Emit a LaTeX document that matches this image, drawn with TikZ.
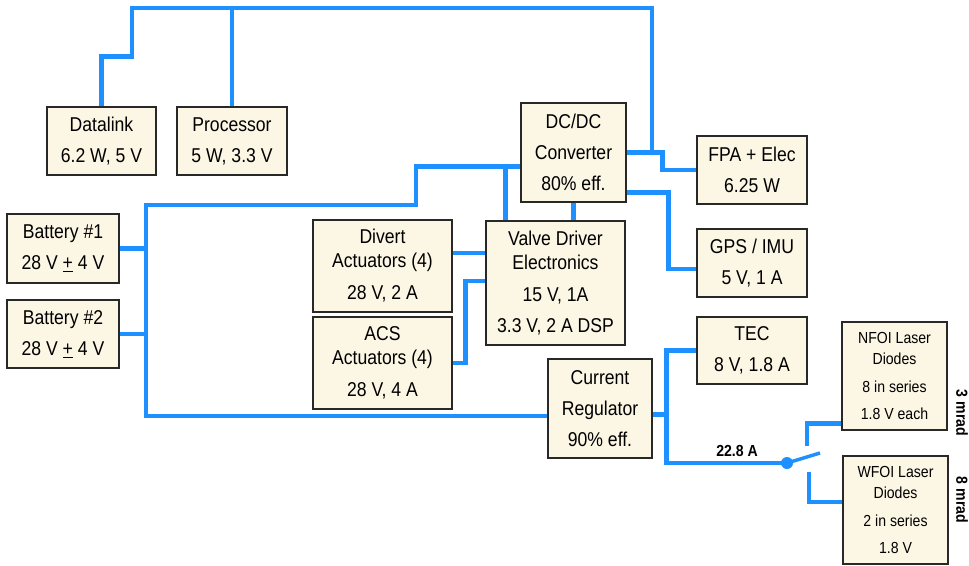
\documentclass[tikz,border=0pt]{standalone}
\usepackage{fontspec}
\setmainfont{Liberation Sans}[FakeStretch=0.88]
\usetikzlibrary{calc}
\definecolor{wireblue}{RGB}{30,144,255}
\definecolor{boxfill}{RGB}{252,246,228}
\definecolor{boxline}{RGB}{40,40,40}

\begin{document}
\begin{tikzpicture}[x=0.75pt,y=-0.75pt,
  wire/.style={draw=wireblue,line width=3.6pt},
  box/.style={draw=boxline,fill=boxfill,line width=1.1pt,inner sep=0pt,align=center,
    font=\fontsize{15}{23.25}\selectfont},
  smallbox/.style={box,font=\fontsize{12}{20.5}\selectfont},
  lbl/.style={font=\fontsize{12}{14}\selectfont\bfseries}]
  \def\px{0.75pt};
  \useasboundingbox (0,0) rectangle (969,565);

  % ブロック
  \node[box,minimum width=109*\px,minimum height=68*\px] (dl) at (101.5,141) {Datalink\\6.2 W, 5 V};
  \node[box,minimum width=110*\px,minimum height=68*\px] (proc) at (232,141) {Processor\\5 W, 3.3 V};
  \node[box,minimum width=105*\px,minimum height=99*\px] (dcdc) at (573.5,152.5) {DC/DC\\Converter\\80\% eff.};
  \node[box,minimum width=110*\px,minimum height=68*\px] (fpa) at (752,170) {FPA + Elec\\6.25 W};
  \node[box,minimum width=110*\px,minimum height=68*\px] (gps) at (752,263) {GPS / IMU\\5 V, 1 A};
  \node[box,minimum width=112*\px,minimum height=69*\px] (bat1) at (63,248.5) {Battery \#1\\28 V \underline{+} 4 V};
  \node[box,minimum width=112*\px,minimum height=68*\px] (bat2) at (63,334) {Battery \#2\\28 V \underline{+} 4 V};
  \node[box,minimum width=139*\px,minimum height=92*\px] (div) at (382.5,266) {Divert\\[-5.5pt]Actuators (4)\\[1pt]28 V, 2 A};
  \node[box,minimum width=139*\px,minimum height=92*\px] (acs) at (382.5,363) {ACS\\[-5.5pt]Actuators (4)\\[1pt]28 V, 4 A};
  \node[box,minimum width=139*\px,minimum height=124*\px] (vde) at (555.5,283) {Valve Driver\\[-5.5pt]Electronics\\[1pt]15 V, 1A\\3.3 V, 2 A DSP};
  \node[box,minimum width=104*\px,minimum height=99*\px] (creg) at (600,408.5) {Current\\Regulator\\90\% eff.};
  \node[box,minimum width=110*\px,minimum height=67*\px] (tec) at (752,350.5) {TEC\\8 V, 1.8 A};
  \node[smallbox,minimum width=105*\px,minimum height=108*\px] (nfoi) at (894.5,376) {NFOI Laser\\[-4.75pt]Diodes\\8 in series\\1.8 V each};
  \node[smallbox,minimum width=105*\px,minimum height=108*\px] (wfoi) at (895.5,510) {WFOI Laser\\[-4.75pt]Diodes\\2 in series\\1.8 V};

  % 上の配線
  \coordinate (tl) at (132,8);
  \coordinate (tr) at (652,8);
  \draw[wire] (dl.north) -- ++(0,-50) -| (tl) -- (tr) -- (tr |- dcdc.east);
  \draw[wire] (proc.north) -- (proc.north |- tl);
  \draw[wire] (dcdc.east) -- ++(36,0) |- (fpa.west);
  \draw[wire] ($(dcdc.east)+(0,40)$) -- ++(42,0) |- ($(gps.west)+(0,6)$);

  % 電池バス
  \coordinate (bt) at (146,205);
  \draw[wire] ($(dcdc.west)+(0,14)$) coordinate (dcl) -| (416,205) -- (bt) |- ($(creg.west)+(0,7.5)$);
  \draw[wire] (bat1.east) -- (bat1.east -| bt);
  \draw[wire] (bat2.east) -- (bat2.east -| bt);
  \draw[wire] ($(vde.north west)+(20,0)$) coordinate (v1) -- (v1 |- dcl);
  \draw[wire] (dcdc.south) -- (dcdc.south |- vde.north);
  \draw[wire] ($(div.east)+(0,-13)$) coordinate (d1) -- (d1 -| vde.west);
  \draw[wire] (acs.east) -- ++(13,0) |- ($(vde.west)+(0,-2)$);

  % レギュレータ出力とスイッチ
  \coordinate (sw) at (787,463); % 支点
  \coordinate (bl) at (820,453); % 刃の先
  \coordinate (cn) at (807,446);
  \coordinate (cw) at (809,472);
  \draw[wire] (tec.west) -- ++(-30,0) coordinate (tj) -- (tj |- sw) -- (sw);
  \draw[wire] ($(creg.east)+(0,6)$) coordinate (ce) -- (ce -| tj);
  \fill[wireblue] (sw) circle (4.5pt);
  \draw[wire,line width=2.6pt] (sw) -- (bl);
  \draw[wire] (cn) |- ($(nfoi.south west)+(0,-7)$);
  \draw[wire] (cw) |- ($(wfoi.west)+(0,-8)$);
  \node[lbl] (amp) at (737,451) {22.8 A};
  \node[lbl,rotate=-90] (nmrad) at (962,413) {3 mrad};
  \node[lbl,rotate=-90] (wmrad) at (962,500) {8 mrad};
\end{tikzpicture}
\end{document}
